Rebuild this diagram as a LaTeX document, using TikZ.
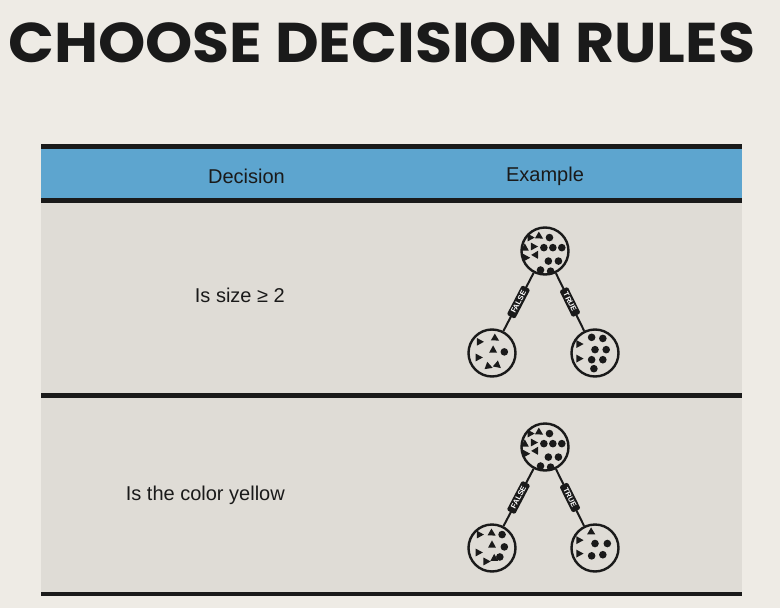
\documentclass[tikz,border=0pt]{standalone}
\usepackage{fontspec}
\setmainfont{Liberation Sans}
\newfontfamily\titlefont{Poppins}
\definecolor{pagebg}{HTML}{EEEBE5}
\definecolor{rowbg}{HTML}{DFDCD6}
\definecolor{headblue}{HTML}{5DA5CF}
\definecolor{ink}{HTML}{1A1A1A}
\newcommand\tri[3]{\fill[ink,shift={(#1,#2)},rotate=#3] (3.8,0) -- (-2.6,3.5) -- (-2.6,-3.5) -- cycle;}
\newcommand\dotc[2]{\fill[ink] (#1,#2) circle (3.4);}
\newcommand\rootstuff{%
  \tri{-13}{-12}{0}\tri{-5}{-13}{-30}\tri{-18}{-3}{90}\tri{-10}{-4}{0}
  \tri{-17}{6}{0}\tri{-8}{3}{60}
  \dotc{4}{-12}\dotc{-1}{-3}\dotc{7}{-3}\dotc{15}{-3}\dotc{3}{9}\dotc{12}{9}\dotc{-4}{17}\dotc{5}{18}}
\tikzset{
  txt/.style={font=\fontsize{20}{24}\selectfont, text=ink, inner sep=0},
  ball/.style={circle, draw=ink, line width=2.4pt, minimum size=47pt, inner sep=0},
  edge/.style={draw=ink, line width=2pt},
  lab/.style={fill=ink, text=white, font=\fontsize{7.5}{7.5}\selectfont\bfseries,
    inner xsep=4.5pt, inner ysep=2pt, rounded corners=1.5pt, sloped, midway},
  stuff/.style={scale=1.12},
}
\begin{document}
\begin{tikzpicture}[x=1pt,y=-1pt]
\useasboundingbox (0,0) rectangle (780,608);
\fill[pagebg] (0,0) rectangle (780,608);
% title
\node[anchor=base west, inner sep=0, text=ink] (title) at (8,62)
  {\scalebox{1.075}[1]{\titlefont\bfseries\fontsize{56}{60}\selectfont CHOOSE DECISION RULES}};
% table
\fill[headblue] (41,149) rectangle (742,198);
\fill[rowbg] (41,203) rectangle (742,393);
\fill[rowbg] (41,398) rectangle (742,592);
\fill[ink] (41,144) rectangle (742,149);
\fill[ink] (41,198) rectangle (742,203);
\fill[ink] (41,393) rectangle (742,398);
\fill[ink] (41,592) rectangle (742,596);
\node[txt, anchor=base east] (hdec) at (285,183) {Decision};
\node[txt, anchor=base] (hex) at (545,181) {Example};
\node[txt, anchor=base east] (d1) at (285,302) {Is size ≥ 2};
\node[txt, anchor=base east] (d2) at (285,500) {Is the color yellow};
% tree 1
\node[ball] (r1) at (545,251) {};
\node[ball] (a1) at (492,353) {};
\node[ball] (b1) at (595,353) {};
\draw[edge] (r1) -- node[lab]{FALSE} (a1);
\draw[edge] (r1) -- node[lab]{TRUE} (b1);
\begin{scope}[shift={(r1.center)},stuff]\rootstuff\end{scope}
\begin{scope}[shift={(a1.center)},stuff]
  \tri{-11}{-10}{0}\tri{3}{-13}{-30}\tri{1}{-3}{90}\tri{-12}{4}{0}\tri{-3}{12}{-20}\tri{5}{11}{-40}
  \dotc{11}{-1}
\end{scope}
\begin{scope}[shift={(b1.center)},stuff]
  \dotc{-3}{-14}\dotc{7}{-13}\dotc{0}{-3}\dotc{10}{-3}\dotc{-3}{6}\dotc{7}{6}\dotc{-1}{14}
  \tri{-14}{-8}{0}\tri{-14}{5}{0}
\end{scope}
% tree 2
\node[ball] (r2) at (545,447) {};
\node[ball] (a2) at (492,548) {};
\node[ball] (b2) at (595,548) {};
\draw[edge] (r2) -- node[lab]{FALSE} (a2);
\draw[edge] (r2) -- node[lab]{TRUE} (b2);
\begin{scope}[shift={(r2.center)},stuff]\rootstuff\end{scope}
\begin{scope}[shift={(a2.center)},stuff]
  \tri{-11}{-12}{0}\tri{0}{-13}{-30}\tri{0}{-3}{90}\tri{-12}{4}{0}\tri{-5}{12}{0}\tri{2}{9}{90}
  \dotc{9}{-12}\dotc{11}{-1}\dotc{7}{8}
\end{scope}
\begin{scope}[shift={(b2.center)},stuff]
  \tri{-3}{-14}{-30}\tri{-14}{-7}{0}\tri{-14}{5}{0}
  \dotc{0}{-4}\dotc{11}{-4}\dotc{-3}{7}\dotc{7}{6}
\end{scope}
\end{tikzpicture}
\end{document}
